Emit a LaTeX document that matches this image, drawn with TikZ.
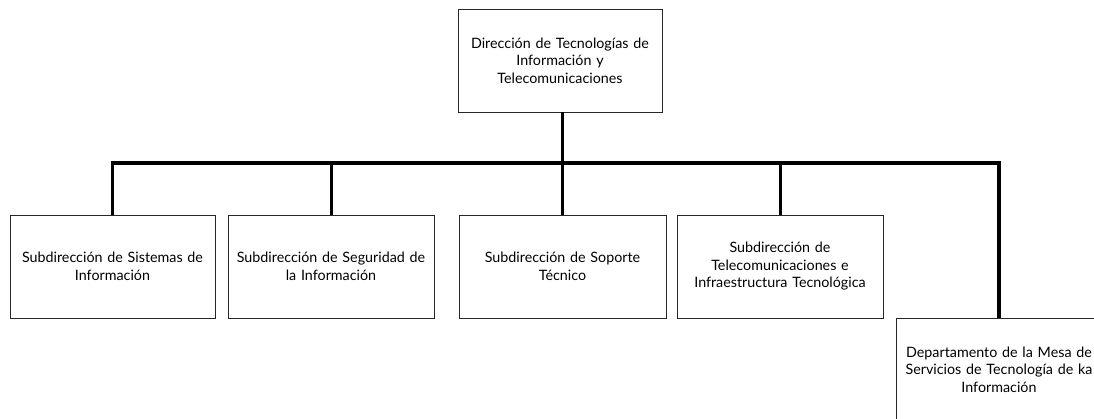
\documentclass[tikz,border=0pt]{standalone}
\usepackage{fontspec}
\setmainfont{Lato}
\begin{document}
\begin{tikzpicture}[x=1pt,y=-1pt,
  unit/.style={draw=black!85, line width=0.9pt, minimum width=206pt, minimum height=103pt,
    text width=204pt, align=center, inner sep=0pt, font=\fontsize{14.3}{17.5}\selectfont},
  link/.style={line width=3pt, black}]
\useasboundingbox (0,0) rectangle (1094,419);
\clip (0,0) rectangle (1094,419);
\node[unit, minimum width=202pt] (top) at (560,60.5) {Dirección de Tecnologías de\\Información y\\Telecomunicaciones};
\node[unit, minimum width=205pt] (s1) at (112.5,266.5) {Subdirección de Sistemas de\\Información};
\node[unit] (s2) at (331,266.5) {Subdirección de Seguridad de\\la Información};
\node[unit, minimum width=207pt] (s3) at (562.5,266.5) {Subdirección de Soporte\\Técnico};
\node[unit] (s4) at (780,266.5) {Subdirección de\\Telecomunicaciones e\\Infraestructura Tecnológica};
\node[unit] (s5) at (999,369.5) {Departamento de la Mesa de\\Servicios de Tecnología de ka\\Información};
\coordinate (bar) at (562,163);
\draw[link] (top.south -| bar) -- (s3.north -| bar);
\draw[link, line width=3.5pt] (s1.north) |- (bar) -| (s5.north);
\draw[link] (s2.north) -- (s2.north |- bar);
\draw[link] (s4.north) -- (s4.north |- bar);
\end{tikzpicture}
\end{document}
